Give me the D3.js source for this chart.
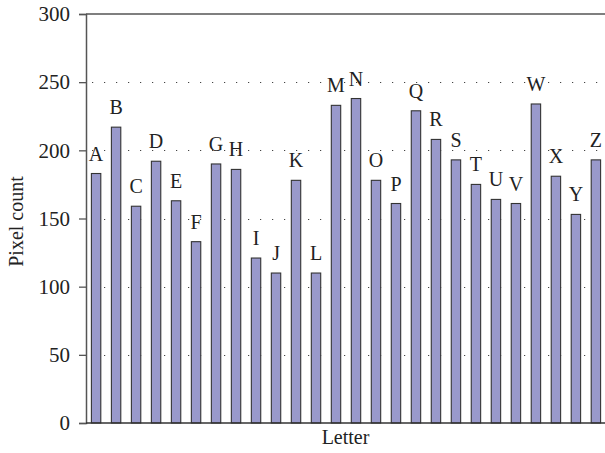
<!DOCTYPE html>
<html>
<head>
<meta charset="utf-8">
<script src="https://cdn.jsdelivr.net/npm/d3@7"></script>
<style>
  body { margin: 0; background: #fff; }
  svg, svg text { font-family: "Liberation Serif", "Times New Roman", serif !important; }
</style>
</head>
<body>
<div id="chart"></div>
<script>
var letters = ['A','B','C','D','E','F','G','H','I','J','K','L','M','N','O','P','Q','R','S','T','U','V','W','X','Y','Z']
var pixelCounts = [183, 217, 159, 192, 163, 133, 190, 186, 121, 110, 178, 110, 233, 238, 178, 161, 229, 208, 193, 175, 164, 161, 234, 181, 153, 193]
var yTicks = [0, 50, 100, 150, 200, 250, 300]

var width = 605,
    height = 453,
    margins = {top: 14, right: -1, bottom: 30, left: 86}

var colors = {
    bar: '#9999cb',
    barStroke: '#333',
    axis: '#555',
    grid: '#444',
    text: '#222'
}

var svg = d3.select('#chart').append('svg')
    .attr('width', width)
    .attr('height', height)

var x = d3.scaleBand()
    .domain(letters)
    .range([margins.left, width - margins.right])
    .paddingInner(0.53)
    .paddingOuter(0.27)

var y = d3.scaleLinear()
    .domain([0, 300])
    .range([height - margins.bottom, margins.top])

// dotted grid
svg.append('g')
    .selectAll('line')
    .data(yTicks.filter(function(d) { return d > 0 && d < 300 }))
    .enter().append('line')
    .attr('x1', margins.left + 6)
    .attr('x2', width)
    .attr('y1', function(d) { return Math.round(y(d)) + 0.5 })
    .attr('y2', function(d) { return Math.round(y(d)) + 0.5 })
    .attr('stroke', colors.grid)
    .attr('stroke-width', 1.2)
    .attr('stroke-dasharray', '1.2,10.8')

// bars
svg.append('g')
    .selectAll('rect')
    .data(pixelCounts)
    .enter().append('rect')
    .attr('x', function(d, i) { return x(letters[i]) })
    .attr('y', function(d) { return y(d) })
    .attr('width', x.bandwidth())
    .attr('height', function(d) { return y(0) - y(d) })
    .attr('fill', colors.bar)
    .attr('stroke', colors.barStroke)
    .attr('stroke-width', 1.1)

// bar letters
svg.append('g')
    .selectAll('text')
    .data(pixelCounts)
    .enter().append('text')
    .attr('x', function(d, i) { return x(letters[i]) + x.bandwidth() / 2 })
    .attr('y', function(d) { return y(d) - 13 })
    .attr('text-anchor', 'middle')
    .attr('fill', colors.text)
    .style('font-size', '20px')
    .text(function(d, i) { return letters[i] })

// y axis
var yAxis = svg.append('g')
    .attr('transform', 'translate(' + margins.left + ',0)')
    .call(d3.axisLeft(y).tickValues(yTicks).tickSize(7).tickPadding(9))
yAxis.attr('font-family', null).attr('font-size', null)
yAxis.select('.domain').attr('stroke', colors.axis).attr('stroke-width', 1.5)
yAxis.selectAll('.tick line').attr('stroke', colors.axis).attr('stroke-width', 1.3)
yAxis.selectAll('.tick text')
    .attr('fill', colors.text)
    .style('font-size', '21px')

// top frame and baseline
svg.append('line')
    .attr('x1', margins.left).attr('x2', width)
    .attr('y1', y(300)).attr('y2', y(300))
    .attr('stroke', colors.axis).attr('stroke-width', 1.5)
svg.append('line')
    .attr('x1', margins.left).attr('x2', width)
    .attr('y1', y(0)).attr('y2', y(0))
    .attr('stroke', '#333').attr('stroke-width', 1.5)

// axis titles
svg.append('text')
    .attr('x', (margins.left + width) / 2)
    .attr('y', height - 9)
    .attr('text-anchor', 'middle')
    .attr('fill', colors.text)
    .style('font-size', '20px')
    .text('Letter')

svg.append('text')
    .attr('transform', 'translate(23,' + (y(150) + 3) + ') rotate(-90)')
    .attr('text-anchor', 'middle')
    .attr('fill', colors.text)
    .style('font-size', '20px')
    .text('Pixel count')
</script>
</body>
</html>
